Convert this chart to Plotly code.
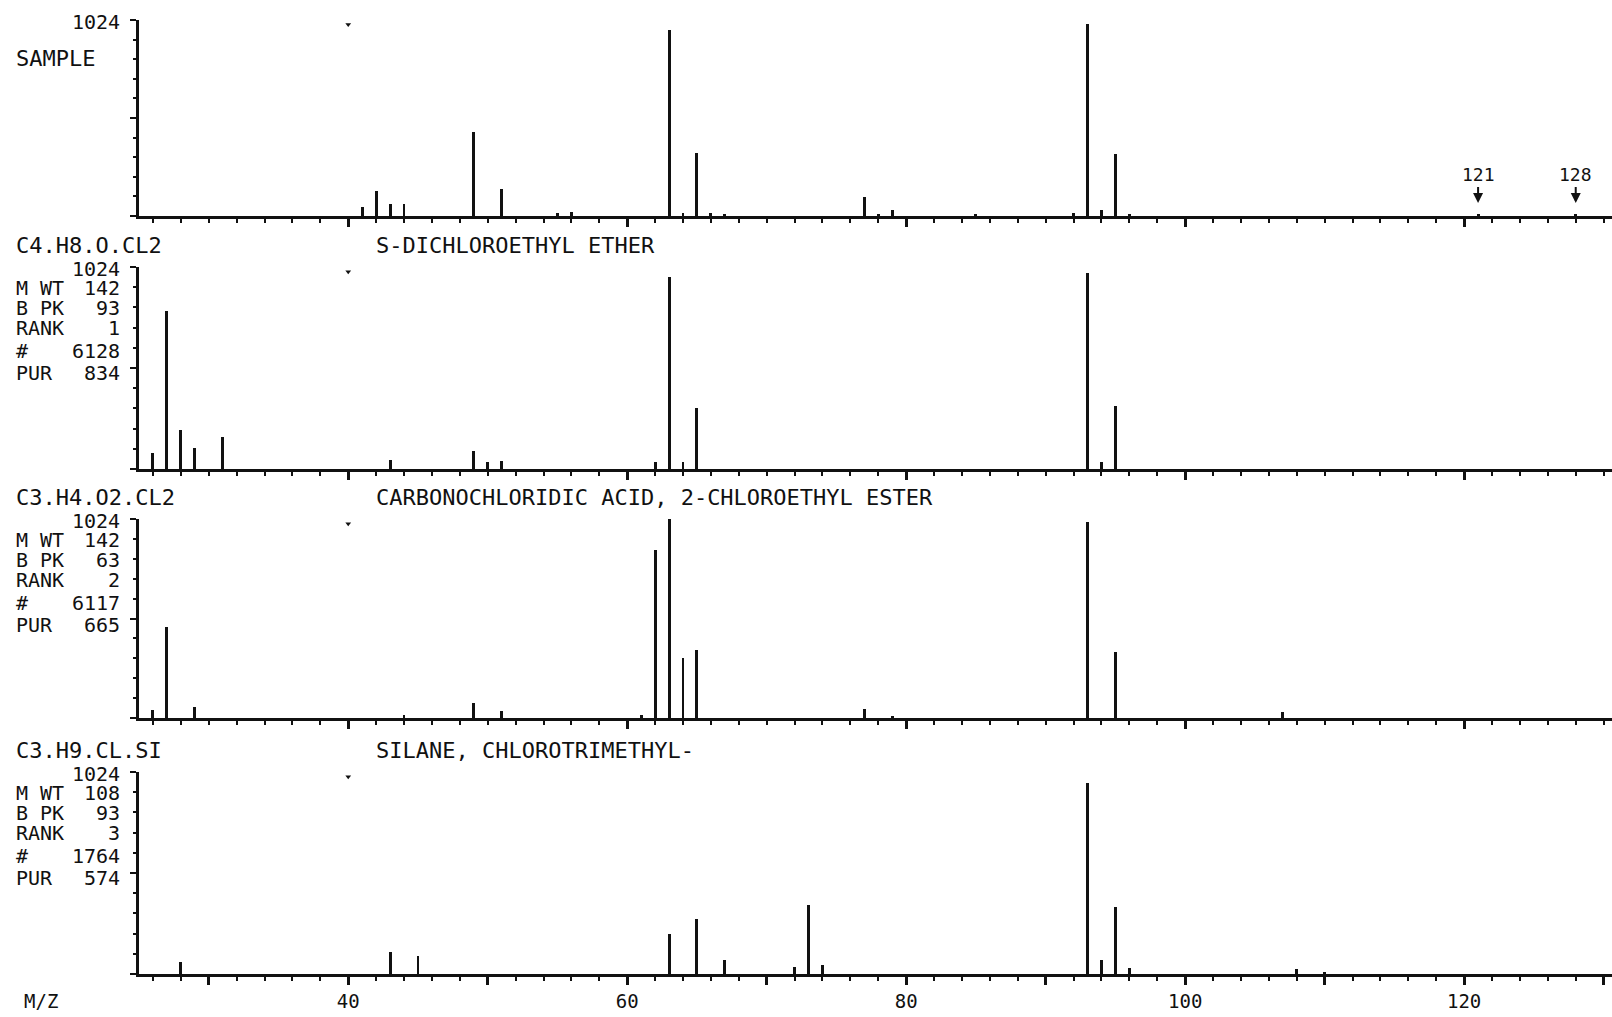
import plotly.graph_objects as go

# ---------------- data ----------------
# Unknown sample spectrum (m/z, relative intensity, base = 1024)
SAMPLE_MZ = [41, 42, 43, 44, 49, 51, 55, 56, 63, 64, 65, 66, 67, 77, 78, 79, 85,
             92, 93, 94, 95, 96, 121, 128]
SAMPLE_INT = [45, 131, 63, 63, 437, 141, 14, 19, 972, 17, 327, 14, 10, 101, 12, 31, 8,
              17, 1004, 31, 325, 9, 12, 10]

# Library hit 1
ETHER_MZ = [26, 27, 28, 29, 31, 43, 49, 50, 51, 62, 63, 64, 65, 93, 94, 95]
ETHER_INT = [81, 802, 198, 106, 162, 47, 89, 34, 39, 38, 975, 38, 308, 995, 34, 320]

# Library hit 2
ESTER_MZ = [26, 27, 29, 44, 49, 51, 61, 62, 63, 64, 65, 77, 79, 93, 95, 107]
ESTER_INT = [41, 468, 55, 15, 77, 34, 17, 866, 1024, 310, 352, 48, 12, 1008, 338, 29]

# Library hit 3
SILANE_MZ = [28, 43, 45, 63, 65, 67, 72, 73, 74, 93, 94, 95, 96, 108, 110]
SILANE_INT = [62, 110, 92, 204, 277, 73, 36, 349, 44, 966, 70, 342, 30, 26, 9]

# Header text of each library hit
FORMULAS = ["C4.H8.O.CL2", "C3.H4.O2.CL2", "C3.H9.CL.SI"]
NAMES = ["S-DICHLOROETHYL ETHER",
         "CARBONOCHLORIDIC ACID, 2-CHLOROETHYL ESTER",
         "SILANE, CHLOROTRIMETHYL-"]
MOL_WT = [142, 142, 108]
BASE_PK = [93, 63, 93]
RANK = [1, 2, 3]
ENTRY_NO = [6128, 6117, 1764]
PURITY = [834, 665, 574]

# Peaks flagged with arrows in the sample trace
FLAGGED_MZ = [121, 128]

# Axis settings
MZ_RANGE = [25, 130.6]
INT_MAX = 1024
MAJOR_TICKS = [30, 40, 50, 60, 70, 80, 90, 100, 110, 120, 130]
LABELLED_TICKS = [40, 60, 80, 100, 120]

# ---------------- layout geometry (pixels) ----------------
W, H = 1612, 1017
PLOT_LEFT = 139
# (top, baseline) of each strip, measured from the top of the page
STRIPS = [(20, 216), (267, 469), (519, 718), (772, 974)]

FONT = "DejaVu Sans Mono"
INK = "#111111"


def px_x(p):
    return p / W


def px_y(p):
    return 1 - p / H


spectra = [(SAMPLE_MZ, SAMPLE_INT), (ETHER_MZ, ETHER_INT),
           (ESTER_MZ, ESTER_INT), (SILANE_MZ, SILANE_INT)]

fig = go.Figure()
layout = dict(
    width=W, height=H,
    margin=dict(l=0, r=0, t=0, b=0),
    paper_bgcolor="white", plot_bgcolor="white",
    showlegend=False, bargap=0,
    font=dict(family=FONT, color=INK),
)

annotations = []

for i, ((mz, inten), (top, base)) in enumerate(zip(spectra, STRIPS)):
    n = i + 1
    xa = "x" if n == 1 else f"x{n}"
    ya = "y" if n == 1 else f"y{n}"
    fig.add_trace(go.Bar(
        x=mz, y=inten, width=0.21,
        marker=dict(color=INK, line=dict(width=0)),
        xaxis=xa, yaxis=ya, hoverinfo="x+y",
    ))
    # small plotter mark near the top of every strip at m/z 40
    fig.add_trace(go.Scatter(
        x=[40], y=[1000], mode="markers",
        marker=dict(symbol="triangle-down", size=5, color=INK),
        xaxis=xa, yaxis=ya, hoverinfo="skip",
    ))

    is_bottom = n == len(STRIPS)
    layout["xaxis" if n == 1 else f"xaxis{n}"] = dict(
        domain=[px_x(PLOT_LEFT), 1],
        range=MZ_RANGE,
        anchor=ya,
        showline=True, linecolor=INK, linewidth=2.5,
        showgrid=False, zeroline=False,
        ticks="outside", tickvals=MAJOR_TICKS,
        ticktext=[str(v) if v in LABELLED_TICKS else "" for v in MAJOR_TICKS],
        ticklen=8, tickwidth=2.5, tickcolor=INK,
        minor=dict(dtick=2, tick0=0, ticks="outside", ticklen=4,
                   tickwidth=2, tickcolor=INK),
        showticklabels=is_bottom,
        tickfont=dict(family=FONT, size=19, color=INK),
        fixedrange=True,
    )
    layout["yaxis" if n == 1 else f"yaxis{n}"] = dict(
        domain=[px_y(base), px_y(top)],
        range=[0, INT_MAX],
        anchor=xa,
        showline=True, linecolor=INK, linewidth=2.5,
        showgrid=False, zeroline=False,
        ticks="outside", tickvals=[0, INT_MAX / 2, INT_MAX],
        ticklen=6, tickwidth=2, tickcolor=INK,
        minor=dict(dtick=INT_MAX / 10, tick0=0, ticks="outside", ticklen=3,
                   tickwidth=2, tickcolor=INK),
        showticklabels=False,
        fixedrange=True,
    )


def text(x, y, s, anchor="left", size=22):
    annotations.append(dict(
        x=px_x(x), y=px_y(y), xref="paper", yref="paper",
        text=s, showarrow=False, xanchor=anchor, yanchor="middle",
        borderpad=0,
        font=dict(family=FONT, size=size, color=INK),
    ))


LABEL_LEFT = 15
VALUE_RIGHT = 121
NAME_LEFT = 375
ROW_SIZE = 20

# sample strip labels
text(VALUE_RIGHT, STRIPS[0][0] + 2, str(INT_MAX), anchor="right", size=ROW_SIZE)
text(LABEL_LEFT, STRIPS[0][0] + 39, "SAMPLE")

# library hit headers and info blocks
ROW_OFFSETS = [2, 21, 41, 61, 84, 106]
for k in range(3):
    top = STRIPS[k + 1][0]
    text(LABEL_LEFT, top - 22, FORMULAS[k])
    text(NAME_LEFT, top - 22, NAMES[k])
    rows = [("", INT_MAX), ("M WT", MOL_WT[k]), ("B PK", BASE_PK[k]),
            ("RANK", RANK[k]), ("#", ENTRY_NO[k]), ("PUR", PURITY[k])]
    for (lab, val), dy in zip(rows, ROW_OFFSETS):
        if lab:
            text(LABEL_LEFT, top + dy, lab, size=ROW_SIZE)
        text(VALUE_RIGHT, top + dy, str(val), anchor="right", size=ROW_SIZE)

# axis caption
text(23, 1001, "M/Z", size=19)

# arrows marking flagged sample peaks
for mz in FLAGGED_MZ:
    annotations.append(dict(
        x=mz, y=68, xref="x", yref="y",
        text=str(mz), showarrow=True,
        arrowhead=2, arrowsize=1, arrowwidth=2, arrowcolor=INK,
        ax=0, ay=-28, standoff=0,
        font=dict(family=FONT, size=18, color=INK),
    ))

layout["annotations"] = annotations
fig.update_layout(**layout)

fig.write_html("out.html", config={"displayModeBar": False})
